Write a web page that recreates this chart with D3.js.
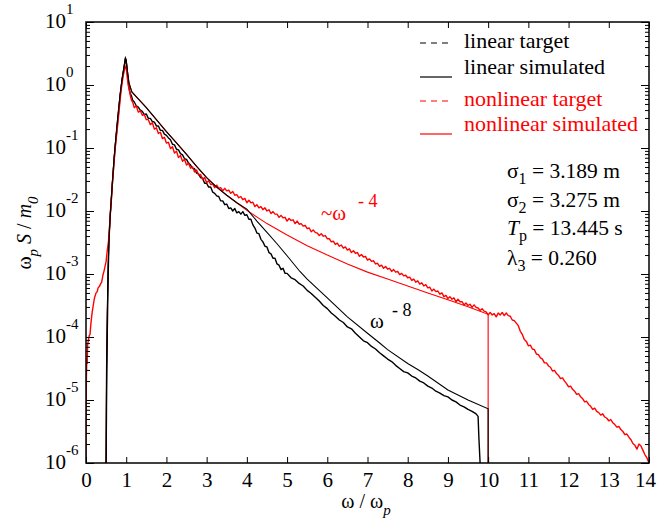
<!DOCTYPE html>
<html><head><meta charset="utf-8">
<script src="https://cdn.jsdelivr.net/npm/d3@7"></script>
<style>
body{margin:0;background:#fff}
svg text{font-family:'Liberation Serif','Times New Roman',Times,serif}
</style>
</head><body>
<svg id="c" width="657" height="524" font-family="Liberation Serif"></svg>
<script>
// ---------- data (omega/omega_p , log10 of omega_p S / m0) ----------
const xTickValues = [0,1,2,3,4,5,6,7,8,9,10,11,12,13,14];
const yTickExponents = [1,0,-1,-2,-3,-4,-5,-6];

const linearTargetLog = [
[0.5,-6],[0.51,-5.1],[0.53,-3.9],[0.55,-3.05],[0.57,-2.5],[0.6,-2.08],[0.63,-1.82],[0.65,-1.62],[0.68,-1.35],[0.7,-1.18],
[0.73,-0.95],[0.75,-0.83],[0.78,-0.62],[0.8,-0.5],[0.83,-0.3],[0.85,-0.17],[0.88,0.0],[0.9,0.1],[0.93,0.22],[0.95,0.3],
[0.97,0.38],[0.98,0.42],[1.0,0.36],[1.02,0.26],[1.04,0.12],[1.06,0.0],[1.08,-0.08],[1.1,-0.13],[1.13,-0.17],[1.16,-0.24],
[1.2,-0.27],[1.25,-0.33],[1.3,-0.35],[1.35,-0.4],[1.4,-0.42],[1.45,-0.47],[1.5,-0.46],[1.55,-0.53],[1.6,-0.53],[1.65,-0.58],
[1.7,-0.59],[1.75,-0.65],[1.8,-0.65],[1.85,-0.72],[1.9,-0.72],[1.95,-0.78],[2.0,-0.8],[2.05,-0.84],[2.1,-0.87],[2.15,-0.94],
[2.2,-0.95],[2.25,-1.02],[2.3,-1.03],[2.35,-1.09],[2.4,-1.11],[2.45,-1.17],[2.5,-1.18],[2.55,-1.24],[2.6,-1.27],[2.65,-1.32],
[2.7,-1.33],[2.75,-1.4],[2.8,-1.41],[2.85,-1.47],[2.9,-1.48],[2.95,-1.56],[3.0,-1.56],[3.05,-1.62],[3.1,-1.62],[3.15,-1.7],
[3.2,-1.72],[3.25,-1.76],[3.3,-1.77],[3.35,-1.84],[3.4,-1.84],[3.45,-1.9],[3.5,-1.89],[3.55,-1.96],[3.6,-1.95],[3.65,-2.0],
[3.7,-1.96],[3.75,-2.03],[3.8,-2.01],[3.85,-2.05],[3.9,-2.01],[3.95,-2.07],[4.0,-2.06],[4.05,-2.13],[4.1,-2.13],[4.15,-2.22],
[4.2,-2.27],[4.25,-2.35],[4.3,-2.36],[4.35,-2.45],[4.4,-2.49],[4.45,-2.56],[4.5,-2.57],[4.55,-2.66],[4.6,-2.68],[4.65,-2.75],
[4.7,-2.75],[4.75,-2.84],[4.8,-2.86],[4.85,-2.93],[4.9,-2.91],[4.95,-2.99],[5.0,-2.99],[5.1,-3.06],[5.2,-3.09],[5.3,-3.15],
[5.4,-3.19],[5.5,-3.26],[5.6,-3.31],[5.7,-3.37],[5.8,-3.43],[5.9,-3.5],[6.0,-3.55],[6.1,-3.62],[6.2,-3.67],[6.3,-3.73],
[6.4,-3.77],[6.5,-3.84],[6.6,-3.87],[6.7,-3.94],[6.8,-4.0],[6.9,-4.06],[7.0,-4.09],[7.1,-4.15],[7.2,-4.19],[7.3,-4.25],
[7.4,-4.3],[7.5,-4.35],[7.6,-4.39],[7.7,-4.45],[7.8,-4.5],[7.9,-4.55],[8.0,-4.57],[8.1,-4.62],[8.2,-4.65],[8.3,-4.7],
[8.4,-4.73],[8.5,-4.78],[8.6,-4.81],[8.7,-4.86],[8.8,-4.89],[8.9,-4.93],[9.0,-4.95],[9.1,-5.0],[9.2,-5.03],[9.3,-5.08],
[9.4,-5.11],[9.5,-5.15],[9.6,-5.18],[9.7,-5.22],[9.75,-5.26],[9.77,-5.6],[9.8,-6]
];

const linearSimulatedLog = [
[0.5,-6],[0.51,-4.5],[0.53,-3.6],[0.55,-2.9],[0.57,-2.46],[0.6,-2.1],[0.65,-1.6],[0.7,-1.15],[0.75,-0.78],[0.8,-0.45],
[0.85,-0.14],[0.9,0.1],[0.95,0.3],[0.98,0.43],[1.0,0.4],[1.03,0.22],[1.07,0.03],[1.14,-0.11],[1.3,-0.22],[1.5,-0.36],
[1.75,-0.55],[2.0,-0.74],[2.25,-0.92],[2.5,-1.1],[2.75,-1.29],[3.0,-1.47],[3.25,-1.62],[3.5,-1.75],[3.75,-1.87],[4.0,-1.97],
[4.25,-2.16],[4.5,-2.34],[4.75,-2.52],[5.0,-2.71],[5.32,-2.96],[5.5,-3.08],[6.0,-3.38],[6.5,-3.68],[7.0,-3.94],[7.31,-4.1],
[7.5,-4.2],[8.0,-4.42],[8.26,-4.52],[8.5,-4.62],[9.0,-4.84],[9.5,-5.0],[10.0,-5.14],[10.0,-6]
];

const nonlinearTargetLog = [
[0,-6],[0.005,-5.0],[0.01,-4.65],[0.02,-4.35],[0.03,-4.42],[0.04,-4.12],[0.06,-4.05],[0.08,-3.98],[0.1,-3.96],[0.12,-3.8],
[0.14,-3.68],[0.16,-3.58],[0.18,-3.5],[0.2,-3.42],[0.22,-3.36],[0.25,-3.3],[0.28,-3.28],[0.3,-3.22],[0.33,-3.2],[0.36,-3.16],
[0.39,-3.13],[0.42,-3.02],[0.45,-2.95],[0.48,-2.86],[0.5,-2.8],[0.53,-2.62],[0.56,-2.48],[0.58,-2.3],[0.6,-2.1],[0.63,-1.82],
[0.65,-1.62],[0.68,-1.38],[0.7,-1.2],[0.73,-0.98],[0.75,-0.86],[0.78,-0.68],[0.8,-0.56],[0.83,-0.36],[0.85,-0.22],[0.88,-0.05],
[0.9,0.04],[0.93,0.16],[0.95,0.22],[0.97,0.28],[0.99,0.3],[1.01,0.22],[1.03,0.1],[1.05,0.0],[1.07,-0.06],[1.1,-0.16],
[1.13,-0.24],[1.16,-0.27],[1.2,-0.36],[1.25,-0.33],[1.3,-0.43],[1.35,-0.41],[1.4,-0.48],[1.45,-0.47],[1.5,-0.55],[1.55,-0.55],
[1.6,-0.63],[1.65,-0.6],[1.7,-0.7],[1.75,-0.68],[1.8,-0.77],[1.85,-0.75],[1.9,-0.85],[1.95,-0.83],[2.0,-0.92],[2.05,-0.91],
[2.1,-1.01],[2.15,-0.98],[2.2,-1.08],[2.25,-1.05],[2.3,-1.15],[2.35,-1.12],[2.4,-1.21],[2.45,-1.18],[2.5,-1.27],[2.55,-1.24],
[2.6,-1.32],[2.65,-1.3],[2.7,-1.38],[2.75,-1.35],[2.8,-1.43],[2.85,-1.42],[2.9,-1.5],[2.95,-1.47],[3.0,-1.55],[3.05,-1.52],
[3.1,-1.58],[3.15,-1.57],[3.2,-1.63],[3.25,-1.59],[3.3,-1.64],[3.35,-1.63],[3.4,-1.68],[3.45,-1.64],[3.5,-1.68],[3.55,-1.67],
[3.6,-1.72],[3.65,-1.69],[3.7,-1.75],[3.75,-1.74],[3.8,-1.79],[3.85,-1.77],[3.9,-1.82],[3.95,-1.8],[4.0,-1.87],[4.05,-1.83],
[4.1,-1.87],[4.15,-1.86],[4.2,-1.93],[4.25,-1.9],[4.3,-1.95],[4.35,-1.93],[4.4,-1.98],[4.45,-1.95],[4.5,-2.0],[4.55,-1.98],
[4.6,-2.04],[4.65,-2.01],[4.7,-2.05],[4.75,-2.05],[4.8,-2.1],[4.85,-2.07],[4.9,-2.11],[4.95,-2.1],[5.0,-2.16],[5.05,-2.12],
[5.1,-2.15],[5.15,-2.14],[5.2,-2.2],[5.25,-2.16],[5.3,-2.21],[5.35,-2.2],[5.4,-2.24],[5.45,-2.23],[5.5,-2.28],[5.55,-2.27],
[5.6,-2.33],[5.65,-2.3],[5.7,-2.34],[5.75,-2.35],[5.8,-2.39],[5.85,-2.36],[5.9,-2.4],[5.95,-2.39],[6.0,-2.44],[6.05,-2.44],
[6.1,-2.49],[6.15,-2.48],[6.2,-2.53],[6.25,-2.51],[6.3,-2.56],[6.35,-2.54],[6.4,-2.59],[6.45,-2.57],[6.5,-2.62],[6.55,-2.6],
[6.6,-2.66],[6.65,-2.63],[6.7,-2.67],[6.75,-2.66],[6.8,-2.72],[6.85,-2.69],[6.9,-2.73],[6.95,-2.72],[7.0,-2.78],[7.05,-2.76],
[7.1,-2.8],[7.15,-2.79],[7.2,-2.84],[7.25,-2.83],[7.3,-2.88],[7.35,-2.86],[7.4,-2.91],[7.45,-2.88],[7.5,-2.92],[7.55,-2.91],
[7.6,-2.96],[7.65,-2.93],[7.7,-2.97],[7.75,-2.96],[7.8,-3.01],[7.85,-2.99],[7.9,-3.03],[7.95,-3.02],[8.0,-3.06],[8.05,-3.05],
[8.1,-3.1],[8.15,-3.08],[8.2,-3.13],[8.25,-3.11],[8.3,-3.16],[8.35,-3.14],[8.4,-3.19],[8.45,-3.17],[8.5,-3.22],[8.55,-3.21],
[8.6,-3.27],[8.65,-3.24],[8.7,-3.28],[8.75,-3.27],[8.8,-3.32],[8.85,-3.3],[8.9,-3.36],[8.95,-3.34],[9.0,-3.39],[9.05,-3.36],
[9.1,-3.4],[9.15,-3.38],[9.2,-3.44],[9.25,-3.4],[9.3,-3.44],[9.35,-3.44],[9.4,-3.49],[9.45,-3.46],[9.5,-3.5],[9.55,-3.48],
[9.6,-3.53],[9.65,-3.49],[9.7,-3.53],[9.75,-3.54],[9.8,-3.58],[9.85,-3.55],[9.9,-3.59],[9.95,-3.6],[10.0,-3.65],[10.05,-3.61],
[10.1,-3.65],[10.15,-3.63],[10.2,-3.68],[10.25,-3.62],[10.3,-3.65],[10.35,-3.61],[10.4,-3.66],[10.45,-3.62],[10.5,-3.66],[10.55,-3.67],
[10.6,-3.73],[10.65,-3.74],[10.7,-3.78],[10.75,-3.82],[10.8,-3.91],[10.85,-3.96],[10.9,-4.04],[10.95,-4.07],[11.0,-4.14],[11.05,-4.13],
[11.1,-4.19],[11.15,-4.2],[11.2,-4.27],[11.25,-4.28],[11.3,-4.33],[11.35,-4.35],[11.4,-4.41],[11.45,-4.41],[11.5,-4.46],[11.55,-4.48],
[11.6,-4.54],[11.65,-4.53],[11.7,-4.58],[11.75,-4.61],[11.8,-4.66],[11.85,-4.65],[11.9,-4.7],[11.95,-4.74],[12.0,-4.79],[12.05,-4.78],
[12.1,-4.83],[12.15,-4.86],[12.2,-4.91],[12.25,-4.9],[12.3,-4.95],[12.35,-4.98],[12.4,-5.03],[12.45,-5.02],[12.5,-5.07],[12.55,-5.1],
[12.6,-5.15],[12.65,-5.13],[12.7,-5.18],[12.75,-5.2],[12.8,-5.24],[12.85,-5.22],[12.9,-5.27],[12.95,-5.29],[13.0,-5.33],[13.05,-5.31],
[13.1,-5.36],[13.15,-5.39],[13.2,-5.43],[13.25,-5.42],[13.3,-5.47],[13.35,-5.5],[13.4,-5.55],[13.45,-5.54],[13.5,-5.59],[13.55,-5.63],
[13.6,-5.69],[13.65,-5.72],[13.7,-5.78],[13.75,-5.7],[13.8,-5.73],[13.85,-5.8],[13.9,-5.87],[13.95,-5.92],[14.0,-6.0]
];

const nonlinearSimulatedLog = [
[0.5,-6],[0.51,-4.5],[0.53,-3.6],[0.55,-2.9],[0.57,-2.46],[0.6,-2.1],[0.65,-1.6],[0.7,-1.15],[0.75,-0.78],[0.8,-0.45],
[0.85,-0.14],[0.9,0.1],[0.95,0.3],[0.98,0.43],[1.0,0.4],[1.03,0.22],[1.07,0.03],[1.14,-0.11],[1.3,-0.22],[1.5,-0.36],
[1.75,-0.55],[2.0,-0.74],[2.25,-0.92],[2.5,-1.1],[2.75,-1.29],[3.0,-1.47],[3.25,-1.62],[3.5,-1.75],[3.75,-1.87],[4.0,-1.99],
[4.5,-2.2],[5.0,-2.38],[5.5,-2.55],[6.0,-2.7],[6.5,-2.84],[7.0,-2.97],[7.5,-3.08],[8.0,-3.19],[8.5,-3.3],[9.0,-3.41],
[9.5,-3.52],[10.0,-3.64],[10.0,-6]
];

const legendLabels = ["linear target","linear simulated","nonlinear target","nonlinear simulated"];
const paramLines = [["σ","1"," = 3.189 m"],["σ","2"," = 3.275 m"],["T","p"," = 13.445 s"],["λ","3"," = 0.260"]];

// ---------- chart ----------
const FONT = "Liberation Serif";
const svg = d3.select("#c");
const L=86, R=649, T=22, B=463;
const x = d3.scaleLinear().domain([0,14]).range([L,R]);
const y = d3.scaleLog().domain([1e-6,10]).range([B,T]);
const RED="#ff0000";

svg.append("clipPath").attr("id","clip").append("rect").attr("x",L).attr("y",T).attr("width",R-L).attr("height",B-T);

const line = d3.line().x(d=>x(d[0])).y(d=>y(Math.pow(10,d[1])));
const g = svg.append("g").attr("clip-path","url(#clip)");
g.append("path").datum(nonlinearSimulatedLog).attr("d",line).attr("fill","none").attr("stroke",RED).attr("stroke-width",1.1);
g.append("path").datum(linearTargetLog).attr("d",line).attr("fill","none").attr("stroke","#000").attr("stroke-width",1.4).attr("stroke-linejoin","round");
g.append("path").datum(nonlinearTargetLog).attr("d",line).attr("fill","none").attr("stroke",RED).attr("stroke-width",1.4).attr("stroke-linejoin","round");
g.append("path").datum(linearSimulatedLog).attr("d",line).attr("fill","none").attr("stroke","#000").attr("stroke-width",1.1);

// axes
const majors = yTickExponents.map(e=>Math.pow(10,e));
const minors = y.ticks().filter(v=>Math.abs(Math.log10(v)-Math.round(Math.log10(v)))>1e-9);

function clean(sel){ sel.attr("font-family",FONT); sel.select(".domain").remove(); sel.selectAll("line").attr("stroke","#000").attr("stroke-width",1); }

svg.append("g").attr("transform",`translate(0,${B})`)
  .call(d3.axisBottom(x).tickValues(xTickValues).tickSizeInner(-6).tickSizeOuter(0).tickPadding(9).tickFormat(d=>d))
  .call(clean)
  .call(s=>s.selectAll("text").attr("font-size",21).attr("font-family",FONT).attr("fill","#000")
             .attr("dx",d=>d===14?-4:0));
svg.append("g").attr("transform",`translate(0,${T})`)
  .call(d3.axisTop(x).tickValues(xTickValues).tickSizeInner(-6).tickSizeOuter(0).tickFormat(""))
  .call(clean);
svg.append("g").attr("transform",`translate(${L},0)`)
  .call(d3.axisLeft(y).tickValues(majors).tickSizeInner(-8).tickSizeOuter(0).tickFormat("")).call(clean);
svg.append("g").attr("transform",`translate(${L},0)`)
  .call(d3.axisLeft(y).tickValues(minors).tickSizeInner(-4).tickSizeOuter(0).tickFormat("")).call(clean);
svg.append("g").attr("transform",`translate(${R},0)`)
  .call(d3.axisRight(y).tickValues(majors).tickSizeInner(-8).tickSizeOuter(0).tickFormat("")).call(clean);
svg.append("g").attr("transform",`translate(${R},0)`)
  .call(d3.axisRight(y).tickValues(minors).tickSizeInner(-4).tickSizeOuter(0).tickFormat("")).call(clean);

svg.append("rect").attr("x",L).attr("y",T).attr("width",R-L).attr("height",B-T)
  .attr("fill","none").attr("stroke","#000").attr("stroke-width",1.5);

// y tick labels 10^e
yTickExponents.forEach(e=>{
  const yy = y(Math.pow(10,e));
  const t = svg.append("text").attr("x",45).attr("y",yy+6).attr("font-size",21).attr("font-family",FONT);
  t.append("tspan").text("10");
  t.append("tspan").attr("dy",-14).attr("font-size",15).text(String(e));
});

// axis titles
const xt = svg.append("text").attr("x",366).attr("y",508).attr("text-anchor","middle").attr("font-size",20).attr("font-family",FONT);
xt.append("tspan").text("ω / ω");
xt.append("tspan").attr("dy",7).attr("font-size",15).attr("font-style","italic").text("p");

const yt = svg.append("text").attr("transform","translate(31,233) rotate(-90)").attr("text-anchor","middle").attr("font-size",20).attr("font-family",FONT);
yt.append("tspan").text("ω");
yt.append("tspan").attr("dy",7).attr("font-size",15).attr("font-style","italic").text("p");
yt.append("tspan").attr("dy",-7).text(" ");
yt.append("tspan").attr("font-style","italic").text("S");
yt.append("tspan").text(" / ");
yt.append("tspan").attr("font-style","italic").text("m");
yt.append("tspan").attr("dy",7).attr("font-size",15).attr("font-style","italic").text("0");

// legend
const legY = [48,74,106,131];
const legColors = ["#000","#000",RED,RED];
const legDash = [true,false,true,false];
const legLineY = [43,77,101,134];
legendLabels.forEach((lab,i)=>{
  svg.append("line").attr("x1",420).attr("x2",452).attr("y1",legLineY[i]).attr("y2",legLineY[i])
    .attr("stroke",legColors[i]).attr("stroke-width",1.2).attr("stroke-dasharray",legDash[i]?"6,5":null);
  svg.append("text").attr("x",464).attr("y",legY[i]).attr("font-size",22).attr("font-family",FONT).attr("fill",legColors[i]).text(lab);
});

// parameters
const parY = [178,207,235,265];
paramLines.forEach((p,i)=>{
  const t = svg.append("text").attr("x",507).attr("y",parY[i]).attr("font-size",21.5).attr("font-family",FONT);
  t.append("tspan").attr("font-style",p[0]==="T"?"italic":null).text(p[0]);
  t.append("tspan").attr("dy",6).attr("font-size",16).text(p[1]);
  t.append("tspan").attr("dy",-6).text(p[2]);
});

// slope annotations
svg.append("text").attr("x",321).attr("y",220).attr("font-size",21).attr("font-family",FONT).attr("fill",RED).text("~ω");
svg.append("text").attr("x",358).attr("y",207).attr("font-size",18).attr("font-family",FONT).attr("fill",RED).text("- 4");
svg.append("text").attr("x",370).attr("y",328).attr("font-size",21).attr("font-family",FONT).attr("fill","#000").text("ω");
svg.append("text").attr("x",392).attr("y",316).attr("font-size",18).attr("font-family",FONT).attr("fill","#000").text("- 8");
</script>
</body></html>
